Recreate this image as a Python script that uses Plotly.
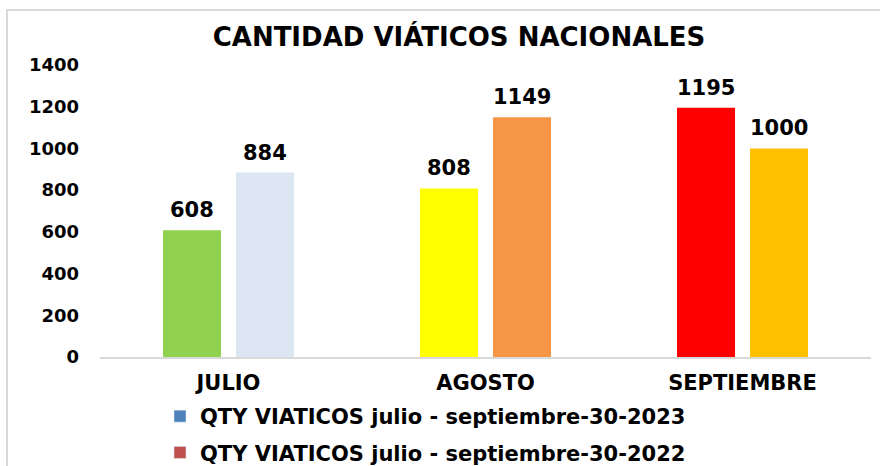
import plotly.graph_objects as go

categories = ["JULIO", "AGOSTO", "SEPTIEMBRE"]
series_names = ["QTY VIATICOS julio - septiembre-30-2023", "QTY VIATICOS julio - septiembre-30-2022"]
values_a = [608, 808, 1195]
values_b = [884, 1149, 1000]
colors_a = ["#92D050", "#FFFF00", "#FF0000"]
colors_b = ["#DCE6F2", "#F79646", "#FFC000"]
legend_colors = ["#4F81BD", "#C0504D"]
y_ticks = [0, 200, 400, 600, 800, 1000, 1200, 1400]

FONT = "DejaVu Sans"
BARGAP = 0.432
BARGROUPGAP = 0.205

fig = go.Figure()
groups = ["a", "b"]
for vals, cols, g in [(values_a, colors_a, "a"), (values_b, colors_b, "b")]:
    fig.add_trace(go.Bar(x=categories, y=vals, marker=dict(color=cols, line=dict(width=0)),
                         offsetgroup=g, showlegend=False, hoverinfo="x+y"))

# legend-only entries with series colours
for i, (name, col) in enumerate(zip(series_names, legend_colors)):
    fig.add_trace(go.Bar(x=[None], y=[None], name=f"<b>{name}</b>", marker=dict(color=col),
                         offsetgroup=groups[i], legendgroup=f"g{i}", showlegend=True))

# data labels as annotations above bars
n_series = 2
slot = (1 - BARGAP) / n_series
for j, vals in enumerate([values_a, values_b]):
    for i, v in enumerate(vals):
        xpos = i + (j - (n_series - 1) / 2) * slot
        fig.add_annotation(x=xpos, y=v, xref="x", yref="y", text=f"<b>{v}</b>",
                           showarrow=False, yanchor="middle", yshift=20,
                           font=dict(family=FONT, size=21, color="#000000"))

# chart border (left and top edges)
fig.add_shape(type="path", xref="paper", yref="paper",
              path="M -0.1206,-0.45 L -0.1206,1.188 L 1.2,1.188",
              line=dict(color="#D9D9D9", width=2))

fig.update_layout(
    width=880, height=466,
    margin=dict(l=100, r=9, t=65, b=109, autoexpand=False),
    paper_bgcolor="white", plot_bgcolor="white",
    barmode="group", bargap=BARGAP, bargroupgap=BARGROUPGAP,
    title=dict(text="<b>CANTIDAD VIÁTICOS NACIONALES</b>", xref="container", yref="container",
               x=459 / 880, y=1 - 37 / 466, xanchor="center", yanchor="middle",
               font=dict(family=FONT, size=26, color="#000000")),
    xaxis=dict(type="category", range=[-0.5, 2.5], showline=True, linecolor="#D9D9D9", linewidth=1.5,
               showgrid=False, zeroline=False, ticks="",
               tickvals=categories, ticktext=[f"<b>{c}</b>" for c in categories],
               tickfont=dict(family=FONT, size=21, color="#000000"), ticklabelstandoff=6),
    yaxis=dict(range=[0, 1400], tickvals=y_ticks, ticktext=[f"<b>{t}</b>" for t in y_ticks],
               showgrid=False, zeroline=False, showline=False, ticks="",
               tickfont=dict(family=FONT, size=18, color="#000000"), ticklabelstandoff=20),
    legend=dict(orientation="v", x=(160 - 100) / 771, y=(357 - 396) / 292, xanchor="left", yanchor="top",
                font=dict(family=FONT, size=21, color="#000000"), tracegroupgap=6,
                bgcolor="rgba(0,0,0,0)"),
    showlegend=True,
)

fig.write_html("out.html", config={"displayModeBar": False},
               post_script="document.body.style.margin='0';document.body.style.overflow='hidden';")
